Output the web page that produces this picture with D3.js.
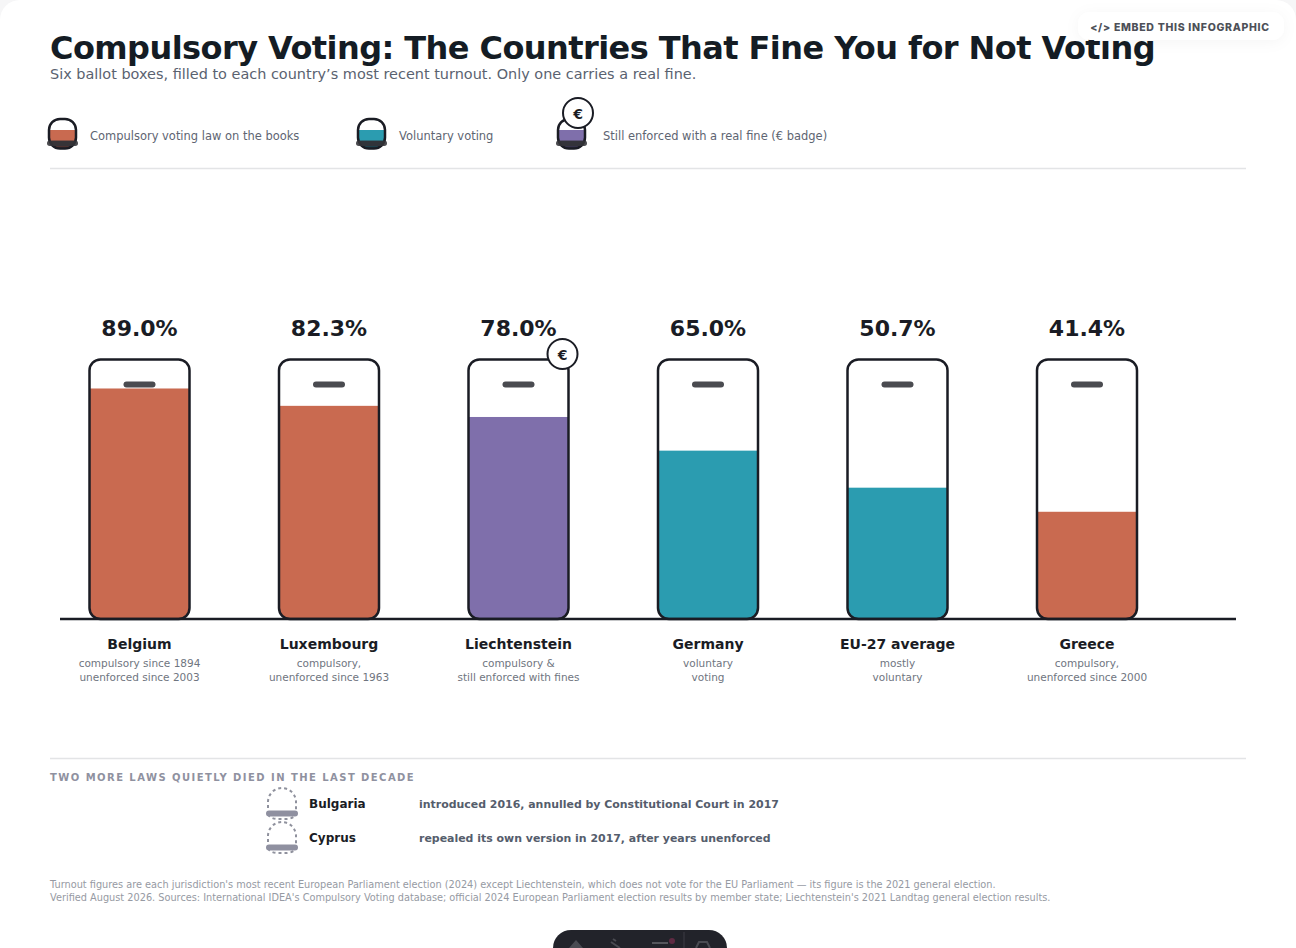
<!DOCTYPE html>
<html><head><meta charset="utf-8">
<script src="https://cdn.jsdelivr.net/npm/d3@7"></script>
<style>
html,body{margin:0;padding:0;background:#f6f6f7;overflow:hidden}
svg{display:block}
text{font-family:"DejaVu Sans",sans-serif}
</style></head><body><svg id="c" width="1296" height="948"></svg>
<script>
const countries=["Belgium","Luxembourg","Liechtenstein","Germany","EU-27 average","Greece"];
const turnout=[89.0,82.3,78.0,65.0,50.7,41.4];
const status=["law","law","fine","vol","vol","law"];
const noteLine1=["compulsory since 1894","compulsory,","compulsory &","voluntary","mostly","compulsory,"];
const noteLine2=["unenforced since 2003","unenforced since 1963","still enforced with fines","voting","voluntary","unenforced since 2000"];
const legendLabels=["Compulsory voting law on the books","Voluntary voting","Still enforced with a real fine (€ badge)"];
const legendKeys=["law","vol","fine"];
const diedNames=["Bulgaria","Cyprus"];
const diedNotes=["introduced 2016, annulled by Constitutional Court in 2017","repealed its own version in 2017, after years unenforced"];
const colors={law:"#c96a50",vol:"#2b9cb0",fine:"#7f6fab"};
const ink="#1a1c24";

const svg=d3.select("#c");
const defs=svg.append("defs");
const sh=defs.append("filter").attr("id","sh").attr("x","-20%").attr("y","-80%").attr("width","140%").attr("height","260%");
sh.append("feDropShadow").attr("dx",0).attr("dy",2).attr("stdDeviation",7).attr("flood-color","#000").attr("flood-opacity",0.04);

svg.append("rect").attr("x",0).attr("y",0).attr("width",1296).attr("height",980).attr("rx",20).attr("fill","#fff");

function txt(x,y,s,size,weight,fill,anchor){
  return svg.append("text").attr("x",x).attr("y",y).text(s).attr("font-size",size).attr("font-weight",weight).attr("fill",fill).attr("text-anchor",anchor||"start");
}
txt(50,59,"Compulsory Voting: The Countries That Fine You for Not Voting",32,700,"#141c24").attr("letter-spacing",-0.57);
txt(50,79,"Six ballot boxes, filled to each country’s most recent turnout. Only one carries a real fine.",14.45,400,"#5a6270");

// embed pill
svg.append("rect").attr("x",1078).attr("y",12).attr("width",206).attr("height",28).attr("rx",12).attr("fill","#fff").attr("filter","url(#sh)");
txt(1180,31,"</> EMBED THIS INFOGRAPHIC",10.5,800,"#4d5058","middle").style("font-family","Inter").attr("letter-spacing",0.7);

// legend
const legendX=[49,358,558], legendTextX=[90,399,603];
legendKeys.forEach((k,i)=>{
  const x=legendX[i], g=svg.append("g").attr("transform",`translate(${x},119)`);
  const id="lc"+i;
  defs.append("clipPath").attr("id",id).append("rect").attr("x",0).attr("y",0).attr("width",27).attr("height",29.5).attr("rx",11);
  g.append("rect").attr("y",11).attr("width",27).attr("height",19).attr("fill",colors[k]).attr("clip-path",`url(#${id})`);
  g.append("rect").attr("y",22).attr("width",27).attr("height",8).attr("fill","#1a1c24").attr("opacity",.72).attr("clip-path",`url(#${id})`);
  g.append("rect").attr("x",0).attr("y",0).attr("width",27).attr("height",29.5).attr("rx",11).attr("fill","none").attr("stroke",ink).attr("stroke-width",2.5);
  g.append("rect").attr("x",-2).attr("y",21.5).attr("width",31).attr("height",5.5).attr("rx",2.75).attr("fill","#333338").attr("opacity",.88);
  svg.append("text").attr("x",legendTextX[i]).attr("y",140).text(legendLabels[i]).attr("font-size",11.47).attr("fill","#5e6572");
});
const lb=svg.append("g").attr("transform","translate(578,113)");
lb.append("circle").attr("r",15).attr("fill","#fff").attr("stroke",ink).attr("stroke-width",2);
lb.append("text").attr("y",5.5).attr("text-anchor","middle").attr("font-size",14).attr("font-weight",700).attr("fill",ink).text("€");

svg.append("line").attr("x1",50).attr("x2",1246).attr("y1",168.5).attr("y2",168.5).attr("stroke","#e3e4e6").attr("stroke-width",1.5);

// chart
const x=d3.scalePoint().domain(countries).range([139.5,1087]);
const y=d3.scaleLinear().domain([0,100]).range([619,360]);
const bw=99;
const rows=countries.map((c,i)=>({c,v:turnout[i],s:status[i],a:noteLine1[i],b:noteLine2[i]}));
const box=svg.append("g").selectAll("g").data(rows).join("g").attr("transform",d=>`translate(${x(d.c)},0)`);
box.each(function(d,i){
  const id="bc"+i;
  defs.append("clipPath").attr("id",id).append("rect").attr("x",-bw/2).attr("y",y(100)).attr("width",bw).attr("height",y(0)-y(100)).attr("rx",10);
});
box.append("rect").attr("x",-bw/2).attr("width",bw).attr("y",d=>y(d.v)).attr("height",d=>y(0)-y(d.v)).attr("fill",d=>colors[d.s]).attr("clip-path",(d,i)=>`url(#bc${i})`);
box.append("rect").attr("x",-bw/2-.5).attr("y",y(100)-.5).attr("width",bw+1).attr("height",y(0)-y(100)+.5).attr("rx",11).attr("fill","none").attr("stroke",ink).attr("stroke-width",2.5);
box.append("rect").attr("x",-16).attr("y",381.5).attr("width",32).attr("height",6).attr("rx",3).attr("fill","#4a4b50");
box.append("text").attr("y",336).attr("text-anchor","middle").attr("font-size",22).attr("font-weight",700).attr("fill",ink).text(d=>d.v.toFixed(1)+"%");
box.append("text").attr("y",649).attr("text-anchor","middle").attr("font-size",14).attr("font-weight",700).attr("fill",ink).text(d=>d.c);
box.append("text").attr("y",667).attr("text-anchor","middle").attr("font-size",10.5).attr("fill","#6f7580").text(d=>d.a);
box.append("text").attr("y",681).attr("text-anchor","middle").attr("font-size",10.5).attr("fill","#6f7580").text(d=>d.b);
const fb=box.filter(d=>d.s==="fine").append("g").attr("transform",`translate(44,-5)`);
fb.append("circle").attr("cy",359).attr("r",15).attr("fill","#fff").attr("stroke",ink).attr("stroke-width",2);
fb.append("text").attr("y",364.5).attr("text-anchor","middle").attr("font-size",14).attr("font-weight",700).attr("fill",ink).text("€");

svg.append("line").attr("x1",60).attr("x2",1236).attr("y1",y(0)).attr("y2",y(0)).attr("stroke",ink).attr("stroke-width",2.4);

// lower section
svg.append("line").attr("x1",50).attr("x2",1246).attr("y1",758.5).attr("y2",758.5).attr("stroke","#e3e4e6").attr("stroke-width",1.5);
txt(50,781,"TWO MORE LAWS QUIETLY DIED IN THE LAST DECADE",10,700,"#8f91a0").attr("letter-spacing",1.45);
const dy=d3.scalePoint().domain(diedNames).range([804,838]);
const died=svg.append("g").selectAll("g").data(diedNames).join("g").attr("transform",d=>`translate(0,${dy(d)})`);
died.append("path").attr("d","M268,10V-2A14,14 0 0 1 296,-2V10A10,6 0 0 1 286,15H278A10,6 0 0 1 268,10Z").attr("fill","none").attr("stroke","#8f919d").attr("stroke-width",2).attr("stroke-dasharray","3 3");
died.append("rect").attr("x",266).attr("y",6.5).attr("width",32).attr("height",6).attr("rx",3).attr("fill","#8f90a0");
died.append("text").attr("x",309).attr("y",4).attr("font-size",12).attr("font-weight",700).attr("fill",ink).text(d=>d);
died.append("text").attr("x",419).attr("y",4).attr("font-size",10.95).attr("font-weight",700).attr("fill","#555d6c").text((d,i)=>diedNotes[i]);

txt(50,888,"Turnout figures are each jurisdiction's most recent European Parliament election (2024) except Liechtenstein, which does not vote for the EU Parliament — its figure is the 2021 general election.",9.75,400,"#969aa3");
txt(50,901,"Verified August 2026. Sources: International IDEA's Compulsory Voting database; official 2024 European Parliament election results by member state; Liechtenstein's 2021 Landtag general election results.",9.75,400,"#969aa3");

// dock
svg.append("rect").attr("x",553).attr("y",930).attr("width",174).attr("height",40).attr("rx",18).attr("fill","#22232a");
svg.append("path").attr("d","M569,948L576,940L583,948Z").attr("fill","#4a4b52");
svg.append("path").attr("d","M611,942L620,948M613,939l3,2").attr("stroke","#4a4b52").attr("stroke-width",2).attr("fill","none");
svg.append("line").attr("x1",652).attr("x2",668).attr("y1",943).attr("y2",943).attr("stroke","#55565c").attr("stroke-width",2);
svg.append("circle").attr("cx",672).attr("cy",941).attr("r",3).attr("fill","#5e2a42");
svg.append("line").attr("x1",684).attr("x2",684).attr("y1",932).attr("y2",948).attr("stroke","#3c3d44");
svg.append("path").attr("d","M696,948L699,942H707L710,948").attr("fill","none").attr("stroke","#4a4b52").attr("stroke-width",2);
</script></body></html>
